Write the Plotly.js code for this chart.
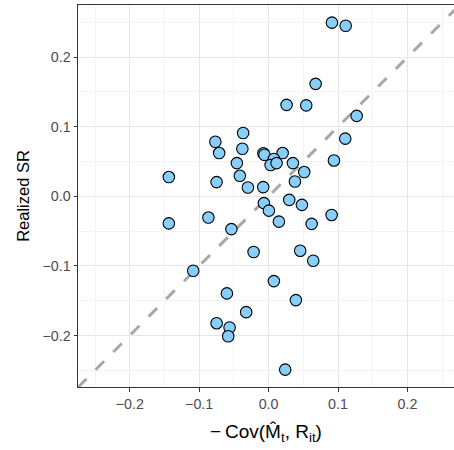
<!DOCTYPE html>
<html>
<head>
<meta charset="utf-8">
<script src="https://cdn.plot.ly/plotly-3.0.1.min.js"></script>
<style>html,body{margin:0;padding:0;background:#fff;}#chart{width:454px;height:450px;}</style>
</head>
<body>
<div id="chart"></div>
<script>
// Model-implied SR (x) vs realized SR (y)
const covM = [0.0912, 0.111, 0.0677, 0.0259, 0.0542, 0.1268, 0.1104, -0.0367, -0.0767, -0.0712,
  -0.0378, -0.0075, -0.006, 0.0202, 0.0076, 0.0029, 0.0115, -0.0457, 0.035, 0.0941,
  -0.0414, 0.0513, -0.1437, -0.0749, -0.0298, -0.0078, 0.0379, -0.0068, 0.0004, 0.0297,
  0.048, 0.0908, 0.0148, 0.062, -0.0867, -0.0536, -0.1437, -0.0216, -0.1086, 0.0076,
  -0.0601, -0.0323, -0.0749, -0.0562, -0.0582, 0.0455, 0.0643, 0.0393, 0.0239];
const realizedSR = [0.2496, 0.2452, 0.1617, 0.1314, 0.1308, 0.1156, 0.0829, 0.0911, 0.0785, 0.0622,
  0.0684, 0.0620, 0.0598, 0.0622, 0.0536, 0.0450, 0.0478, 0.0478, 0.0478, 0.0516,
  0.0295, 0.0349, 0.0277, 0.0205, 0.0127, 0.0133, 0.0213, -0.0098, -0.0205, -0.005,
  -0.0122, -0.0267, -0.0363, -0.0396, -0.0305, -0.0471, -0.0389, -0.08, -0.1069, -0.1218,
  -0.1395, -0.1664, -0.1823, -0.1885, -0.2010, -0.0781, -0.0925, -0.1491, -0.249];
const diagLine = [-0.3, 0.3];
const majorStep = 0.1;
const minorStart = 0.05;
const xRange = [-0.2745, 0.267];
const yRange = [-0.274, 0.275];

const font = '"Liberation Sans", Arial, Helvetica, sans-serif';
const traces = [
  {x: diagLine, y: diagLine, type: 'scatter', mode: 'lines', hoverinfo: 'skip',
   xaxis: 'x', yaxis: 'y',
   line: {color: '#A8A8A8', width: 3, dash: '12px,13px'}},
  {x: covM, y: realizedSR, type: 'scatter', mode: 'markers', xaxis: 'x2', yaxis: 'y2',
   marker: {size: 11.5, color: '#87CEFA', line: {color: '#000000', width: 1.1}}}
];
const axisCommon = {
  showline: true, mirror: true, linecolor: '#333333', linewidth: 1,
  ticks: 'outside', ticklen: 3.5, tickcolor: '#333333', tickwidth: 1,
  tickmode: 'linear', tick0: 0, dtick: majorStep, tickformat: '.1f',
  showgrid: true, gridcolor: '#E6E6E6', gridwidth: 1,
  zeroline: false,
  tickfont: {family: font, size: 14.3, color: '#4D4D4D'}
};
const minorAxis = {
  tickmode: 'linear', tick0: minorStart, dtick: majorStep,
  showgrid: true, gridcolor: '#F3F3F3', gridwidth: 1,
  showticklabels: false, ticks: '', showline: false, zeroline: false
};
const layout = {
  width: 454, height: 450,
  margin: {l: 78, r: 0, t: 5, b: 63},
  paper_bgcolor: '#FFFFFF', plot_bgcolor: '#FFFFFF',
  showlegend: false,
  xaxis: Object.assign({}, axisCommon, {
    range: xRange,
    title: {text: '\u2212\u2009Cov(M\u0302<sub>t</sub>, R<sub>it</sub>)', font: {family: font, size: 19, color: '#000'}, standoff: 14}
  }),
  yaxis: Object.assign({}, axisCommon, {
    range: yRange,
    title: {text: 'Realized SR', font: {family: font, size: 16.5, color: '#000'}, standoff: 8}
  }),
  xaxis2: Object.assign({}, minorAxis, {overlaying: 'x', range: xRange}),
  yaxis2: Object.assign({}, minorAxis, {overlaying: 'y', range: yRange})
};
Plotly.newPlot('chart', traces, layout, {displayModeBar: false, staticPlot: true});
</script>
</body>
</html>
